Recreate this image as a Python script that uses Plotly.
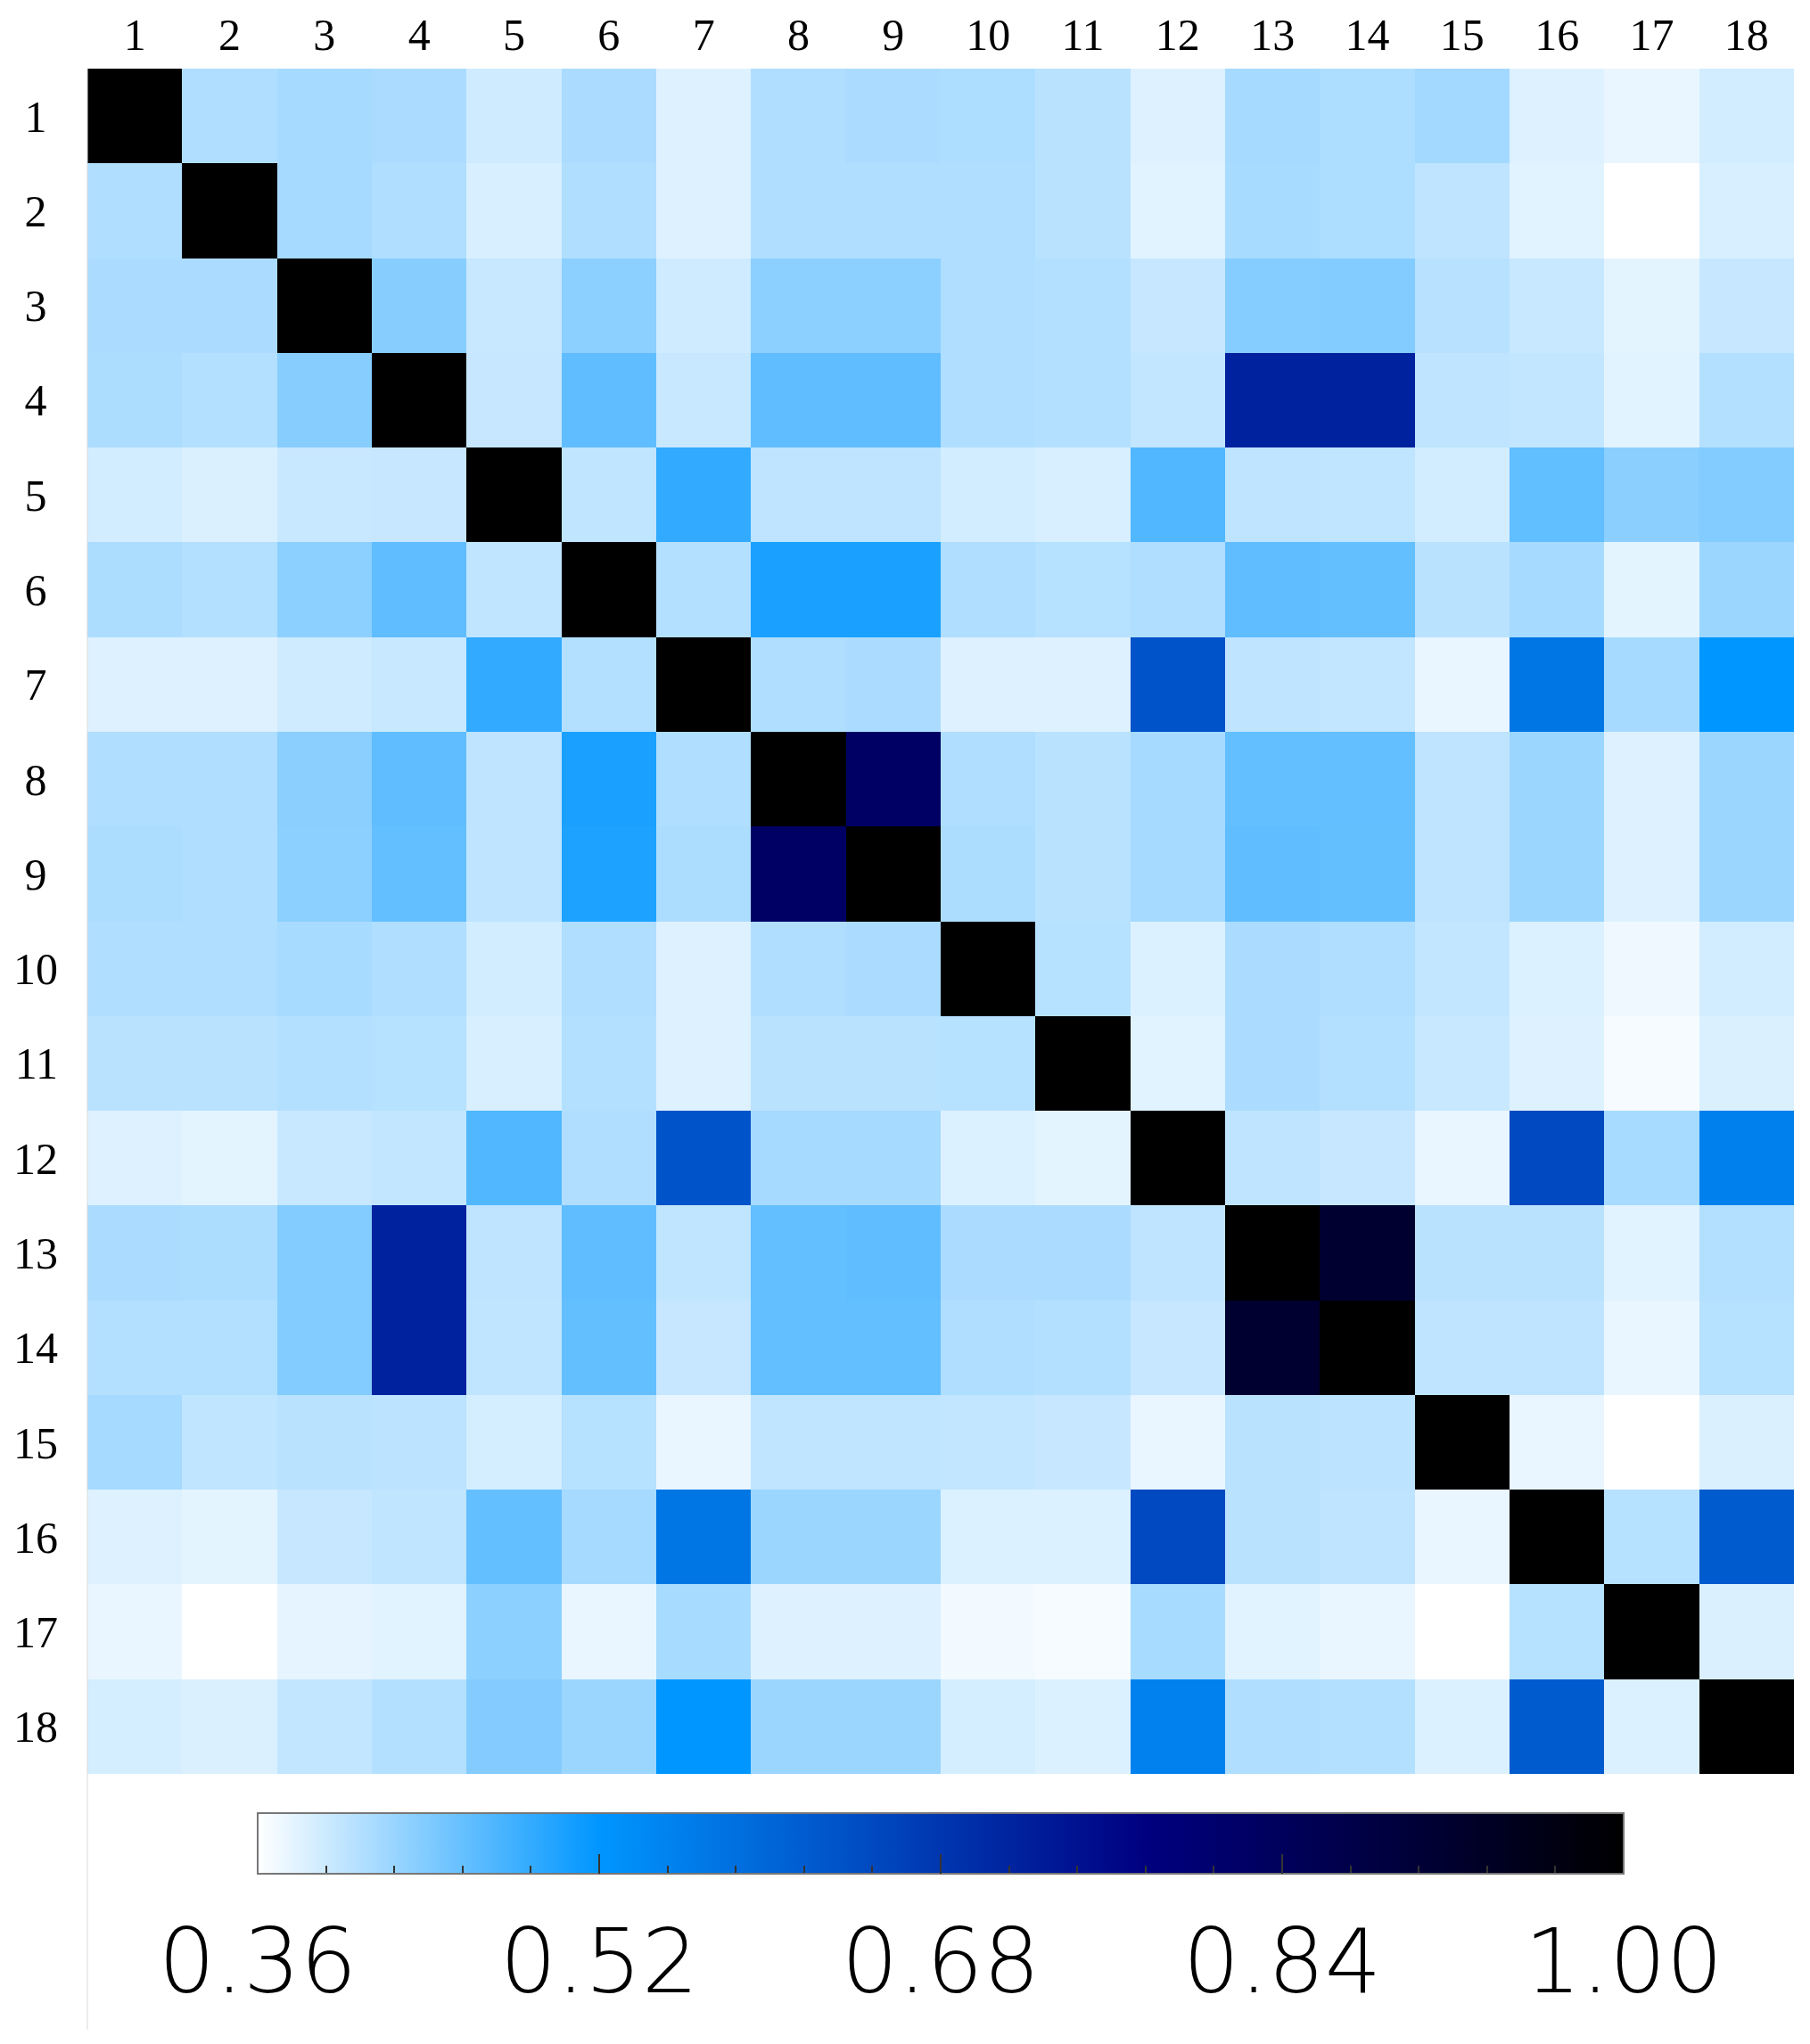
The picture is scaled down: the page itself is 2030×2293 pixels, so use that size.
import plotly.graph_objects as go

# category labels on both axes
labels = [str(i) for i in range(1, 19)]
# single digits padded by a quarter em so the row labels sit centred like the original
row_text = [s + "\u2005" if len(s) == 1 else s for s in labels]

# correlation rows
row1 = [1.00, 0.410, 0.416, 0.413, 0.391, 0.413, 0.381, 0.410, 0.413, 0.411, 0.404, 0.381, 0.416, 0.411, 0.418, 0.381, 0.374, 0.388]
row2 = [0.410, 1.00, 0.416, 0.410, 0.385, 0.410, 0.381, 0.410, 0.410, 0.410, 0.404, 0.379, 0.415, 0.411, 0.401, 0.379, 0.360, 0.385]
row3 = [0.413, 0.413, 1.00, 0.435, 0.395, 0.432, 0.391, 0.432, 0.432, 0.410, 0.407, 0.396, 0.436, 0.438, 0.405, 0.395, 0.377, 0.396]
row4 = [0.412, 0.408, 0.435, 1.00, 0.396, 0.460, 0.395, 0.460, 0.460, 0.410, 0.407, 0.398, 0.716, 0.716, 0.401, 0.398, 0.379, 0.407]
row5 = [0.388, 0.383, 0.395, 0.396, 1.00, 0.400, 0.489, 0.401, 0.401, 0.388, 0.385, 0.469, 0.401, 0.400, 0.388, 0.459, 0.433, 0.438]
row6 = [0.412, 0.408, 0.432, 0.460, 0.400, 1.00, 0.407, 0.504, 0.504, 0.410, 0.406, 0.410, 0.460, 0.457, 0.404, 0.416, 0.377, 0.423]
row7 = [0.381, 0.381, 0.391, 0.395, 0.489, 0.407, 1.00, 0.410, 0.413, 0.381, 0.381, 0.632, 0.401, 0.398, 0.374, 0.573, 0.416, 0.520]
row8 = [0.410, 0.410, 0.433, 0.460, 0.401, 0.504, 0.410, 1.00, 0.825, 0.410, 0.404, 0.416, 0.458, 0.458, 0.401, 0.423, 0.381, 0.423]
row9 = [0.412, 0.410, 0.432, 0.458, 0.401, 0.502, 0.412, 0.825, 1.00, 0.412, 0.404, 0.416, 0.460, 0.457, 0.401, 0.423, 0.381, 0.423]
row10 = [0.410, 0.410, 0.415, 0.410, 0.388, 0.410, 0.381, 0.410, 0.413, 1.00, 0.406, 0.382, 0.413, 0.410, 0.398, 0.382, 0.370, 0.388]
row11 = [0.404, 0.404, 0.407, 0.406, 0.385, 0.407, 0.381, 0.404, 0.404, 0.406, 1.00, 0.379, 0.413, 0.407, 0.395, 0.381, 0.366, 0.383]
row12 = [0.381, 0.377, 0.395, 0.398, 0.469, 0.410, 0.632, 0.416, 0.416, 0.382, 0.377, 1.00, 0.401, 0.396, 0.374, 0.648, 0.415, 0.557]
row13 = [0.413, 0.412, 0.438, 0.716, 0.401, 0.460, 0.400, 0.458, 0.460, 0.413, 0.413, 0.401, 1.00, 0.916, 0.404, 0.404, 0.379, 0.408]
row14 = [0.408, 0.408, 0.438, 0.716, 0.400, 0.457, 0.396, 0.458, 0.458, 0.410, 0.407, 0.396, 0.916, 1.00, 0.401, 0.401, 0.374, 0.406]
row15 = [0.416, 0.400, 0.404, 0.402, 0.387, 0.406, 0.373, 0.400, 0.400, 0.398, 0.396, 0.374, 0.404, 0.402, 1.00, 0.373, 0.360, 0.383]
row16 = [0.381, 0.377, 0.396, 0.400, 0.458, 0.416, 0.573, 0.423, 0.423, 0.382, 0.382, 0.648, 0.404, 0.401, 0.373, 1.00, 0.406, 0.619]
row17 = [0.373, 0.360, 0.376, 0.379, 0.432, 0.374, 0.415, 0.381, 0.381, 0.368, 0.366, 0.415, 0.379, 0.374, 0.360, 0.406, 1.00, 0.383]
row18 = [0.387, 0.383, 0.398, 0.407, 0.437, 0.423, 0.520, 0.423, 0.423, 0.387, 0.382, 0.555, 0.410, 0.407, 0.382, 0.619, 0.382, 1.00]

corr = [row1, row2, row3, row4, row5, row6, row7, row8, row9,
        row10, row11, row12, row13, row14, row15, row16, row17, row18]

# colorbar ticks
zmin, zmax = 0.36, 1.00
major_vals = [0.36, 0.52, 0.68, 0.84, 1.00]
major_text = ["0.36", "0.52", "0.68", "0.84", "1.00"]
minor_vals = [round(zmin + 0.032 * k, 3) for k in range(21)]

colorscale = [
    [0.0, "#ffffff"],
    [0.25, "#0096ff"],
    [0.5, "#0036b0"],
    [0.65, "#000080"],
    [1.0, "#000000"],
]
clear_scale = [[0, "rgba(0,0,0,0)"], [1, "rgba(0,0,0,0)"]]

cb_common = dict(
    orientation="h", x=0.5, xanchor="center", len=0.8004, lenmode="fraction",
    y=-0.023, yanchor="top", ypad=0, xpad=0, thickness=68,
)

fig = go.Figure()

# main heatmap, carries the visible colorbar with the small inside ticks
fig.add_trace(go.Heatmap(
    z=corr, x=labels, y=labels,
    zmin=zmin, zmax=zmax, colorscale=colorscale,
    colorbar=dict(
        **cb_common,
        outlinecolor="#777777", outlinewidth=2,
        tickmode="array", tickvals=minor_vals, ticks="inside",
        ticklen=10, tickwidth=2, tickcolor="#333333",
        showticklabels=False,
    ),
    hoverinfo="x+y+z",
))

# transparent colorbar: longer major ticks
fig.add_trace(go.Scatter(
    x=[labels[0]], y=[labels[0]], mode="markers", showlegend=False, hoverinfo="skip",
    marker=dict(
        size=1, color=[zmin], cmin=zmin, cmax=zmax, colorscale=clear_scale, showscale=True,
        colorbar=dict(
            **cb_common, outlinewidth=0,
            tickmode="array", tickvals=major_vals[1:-1], ticks="inside",
            ticklen=22, tickwidth=2, tickcolor="#333333", showticklabels=False,
        ),
    ),
))

# transparent colorbar: the big tick labels below the bar
fig.add_trace(go.Scatter(
    x=[labels[0]], y=[labels[0]], mode="markers", showlegend=False, hoverinfo="skip",
    marker=dict(
        size=1, color=[zmin], cmin=zmin, cmax=zmax, colorscale=clear_scale, showscale=True,
        colorbar=dict(
            **cb_common, outlinewidth=0,
            tickmode="array", tickvals=major_vals, ticktext=major_text,
            ticks="outside", ticklen=13, tickcolor="rgba(0,0,0,0)",
            tickfont=dict(family="DejaVu Sans", size=100, color="black", weight=200),
        ),
    ),
))

serif = dict(family="Liberation Serif, DejaVu Serif, serif", size=50, color="black")
n = len(labels)

# the page body adds 8px, so margins are shifted by that much
fig.update_layout(
    width=2030, height=2293, autosize=False,
    margin=dict(l=90, r=26, t=69, b=311, autoexpand=False),
    paper_bgcolor="white", plot_bgcolor="white",
    xaxis=dict(side="top", type="category", range=[-0.5, n - 0.5], tickfont=serif,
               showgrid=False, automargin=False, zeroline=False, ticks="",
               ticklabelstandoff=10),
    yaxis=dict(type="category", range=[n - 0.5, -0.5], tickfont=serif, showgrid=False,
               automargin=False, zeroline=False, ticks="", ticklabelstandoff=32,
               tickmode="array", tickvals=labels, ticktext=row_text),
    shapes=[dict(type="line", xref="paper", yref="paper", x0=0, x1=0, y0=-0.15, y1=1,
                 line=dict(color="#d9d9d9", width=1))],
)

fig.write_html("out.html")
